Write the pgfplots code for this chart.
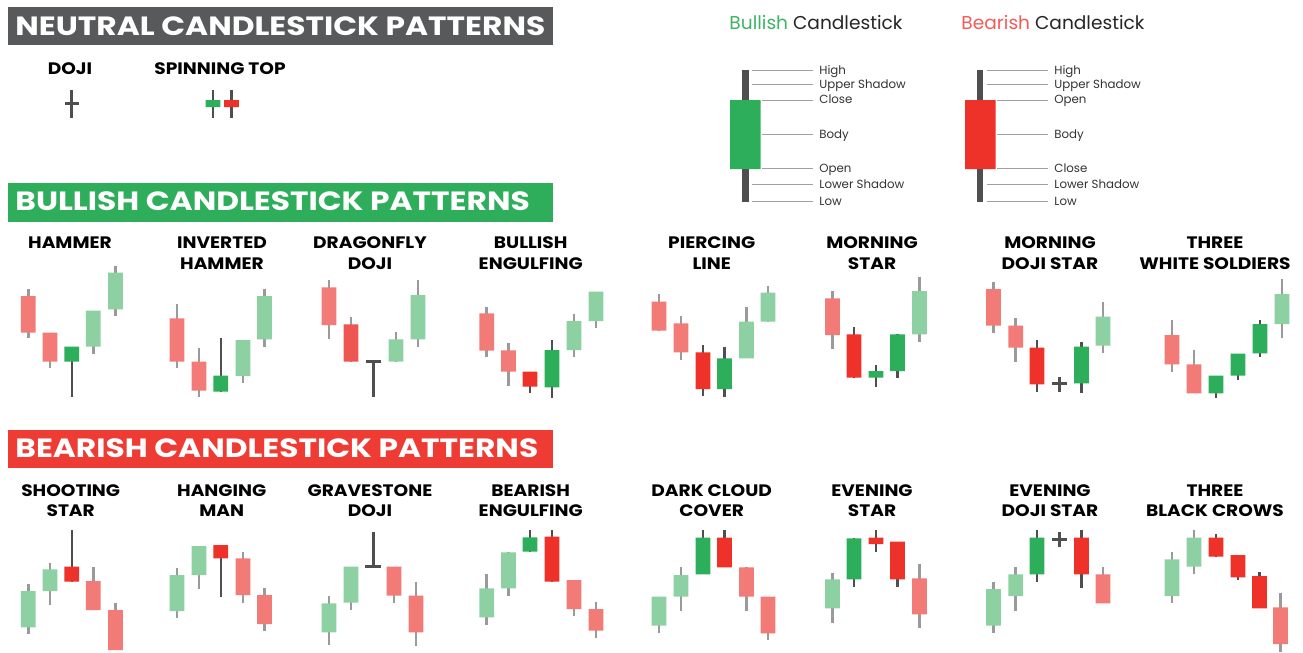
\documentclass[border=0pt]{standalone}
\usepackage{pgfplots}
\pgfplotsset{compat=1.18}
\usepackage{fontspec}
\setmainfont{Poppins}
\definecolor{lr}{HTML}{F27B78}
\definecolor{sr}{HTML}{EE3129}
\definecolor{mr}{HTML}{EE5652}
\definecolor{lg}{HTML}{8DD1A3}
\definecolor{sg}{HTML}{2DAE5A}
\definecolor{wl}{HTML}{9A9A9A}
\definecolor{wd}{HTML}{4F4F4F}
\definecolor{hgray}{HTML}{58595B}
\definecolor{hgreen}{HTML}{2EAD5B}
\definecolor{hred}{HTML}{EE3B33}
\definecolor{tgreen}{HTML}{3DB565}
\definecolor{tred}{HTML}{F25C57}
\definecolor{leader}{HTML}{A0A0A0}
\tikzset{
  hdr/.style={font=\fontsize{13.2}{14}\selectfont\bfseries, text=white, anchor=base west, inner sep=0pt},
  lab/.style={font=\fontsize{8.3}{9}\selectfont\bfseries, text=black, anchor=base, inner sep=0pt},
  leg/.style={font=\fontsize{5.9}{7}\selectfont, text=black!80, anchor=base west, inner sep=0pt},
}
\newcommand{\HdrScale}[1]{\scalebox{1.185}[1]{#1}}
\newcommand{\LabScale}[1]{\scalebox{1.12}[1]{#1}}
% candle: cx, body top, body bottom, wick top, wick bottom, body colour, wick colour
\newcommand{\cdl}[7]{%
 \pgfmathsetmacro\xl{#1-7.4}\pgfmathsetmacro\xr{#1+7.4}%
 \addplot[draw=#7, line width=1.25pt, mark=none, forget plot] coordinates {(#1,#4) (#1,#5)};
 \addplot[fill=#6, draw=none, mark=none, forget plot] coordinates {(\xl,#2) (\xr,#2) (\xr,#3) (\xl,#3) (\xl,#2)};
}
\newcommand{\LR}[5]{\cdl{#1}{#2}{#3}{#4}{#5}{lr}{wl}}
\newcommand{\LG}[5]{\cdl{#1}{#2}{#3}{#4}{#5}{lg}{wl}}
\newcommand{\SR}[5]{\cdl{#1}{#2}{#3}{#4}{#5}{sr}{wd}}
\newcommand{\SG}[5]{\cdl{#1}{#2}{#3}{#4}{#5}{sg}{wd}}
\newcommand{\MR}[5]{\cdl{#1}{#2}{#3}{#4}{#5}{mr}{wl}}
% dark line segment
\newcommand{\seg}[4]{\addplot[draw=wd, line width=1.5pt, mark=none, forget plot] coordinates {(#1,#2) (#3,#4)};}
\newcommand{\lead}[3]{\addplot[draw=leader, line width=0.5pt, mark=none, forget plot] coordinates {(#1,#3) (#2,#3)};}
\begin{document}
\begin{tikzpicture}
\begin{axis}[
  width=651.5pt, height=326.5pt, scale only axis,
  xmin=0, xmax=1303, ymin=0, ymax=653, y dir=reverse,
  hide axis, clip=false,
]
\path[fill=white] (axis cs:0,0) rectangle (axis cs:1303,653);
% header boxes
\fill[hgray] (axis cs:8,7) rectangle (axis cs:553,45);
\fill[hgreen] (axis cs:8,183) rectangle (axis cs:553,222);
\fill[hred] (axis cs:8,430) rectangle (axis cs:553,468);
\node[hdr] at (axis cs:15,35) {\HdrScale{NEUTRAL CANDLESTICK PATTERNS}};
\node[hdr] at (axis cs:15,210.5) {\HdrScale{BULLISH CANDLESTICK PATTERNS}};
\node[hdr] at (axis cs:15,457) {\HdrScale{BEARISH CANDLESTICK PATTERNS}};

% neutral
\node[lab] at (axis cs:70,74) {\LabScale{DOJI}};
\node[lab] at (axis cs:220,74) {\LabScale{SPINNING TOP}};
\seg{71.5}{90}{71.5}{118}
\seg{65}{103}{79}{103}
\SG{213}{100}{107}{90}{118}
\SR{231.5}{100}{107}{90}{118}

% legend
\node[font=\fontsize{9.3}{11}\selectfont, anchor=base, inner sep=0pt] at (axis cs:816,29) {\textcolor{tgreen}{Bullish} \textcolor{black!85}{Candlestick}};
\node[font=\fontsize{9.3}{11}\selectfont, anchor=base, inner sep=0pt] at (axis cs:1053,29) {\textcolor{tred}{Bearish} \textcolor{black!85}{Candlestick}};
\addplot[draw=wd, line width=3.4pt, mark=none, forget plot] coordinates {(745.7,70) (745.7,202)};
\addplot[fill=sg, draw=none, mark=none, forget plot] coordinates {(730,100) (760.7,100) (760.7,169) (730,169) (730,100)};
\addplot[draw=wd, line width=3.4pt, mark=none, forget plot] coordinates {(980,70) (980,202)};
\addplot[fill=sr, draw=none, mark=none, forget plot] coordinates {(965,100) (995.5,100) (995.5,169) (965,169) (965,100)};
\lead{751.5}{813}{70}
\lead{751.5}{813}{84}
\lead{762}{813}{100}
\lead{762}{813}{134}
\lead{762}{813}{168}
\lead{751.5}{813}{184}
\lead{751.5}{813}{201}
\lead{986.5}{1048}{70}
\lead{986.5}{1048}{84}
\lead{997}{1048}{100}
\lead{997}{1048}{134}
\lead{997}{1048}{168}
\lead{986.5}{1048}{184}
\lead{986.5}{1048}{201}
\node[leg] at (axis cs:819,74) {High};
\node[leg] at (axis cs:819,88) {Upper Shadow};
\node[leg] at (axis cs:819,104) {Close};
\node[leg] at (axis cs:819,138) {Body};
\node[leg] at (axis cs:819,172) {Open};
\node[leg] at (axis cs:819,188) {Lower Shadow};
\node[leg] at (axis cs:819,205) {Low};
\node[leg] at (axis cs:1054,74) {High};
\node[leg] at (axis cs:1054,88) {Upper Shadow};
\node[leg] at (axis cs:1054,104) {Open};
\node[leg] at (axis cs:1054,138) {Body};
\node[leg] at (axis cs:1054,172) {Close};
\node[leg] at (axis cs:1054,188) {Lower Shadow};
\node[leg] at (axis cs:1054,205) {Low};

% bullish labels
\node[lab] at (axis cs:70,248) {\LabScale{HAMMER}};
\node[lab] at (axis cs:222,248) {\LabScale{INVERTED}};
\node[lab] at (axis cs:222,269) {\LabScale{HAMMER}};
\node[lab] at (axis cs:370,248) {\LabScale{DRAGONFLY}};
\node[lab] at (axis cs:370,269) {\LabScale{DOJI}};
\node[lab] at (axis cs:530.7,248) {\LabScale{BULLISH}};
\node[lab] at (axis cs:530.7,269) {\LabScale{ENGULFING}};
\node[lab] at (axis cs:711.7,248) {\LabScale{PIERCING}};
\node[lab] at (axis cs:711.7,269) {\LabScale{LINE}};
\node[lab] at (axis cs:872,248) {\LabScale{MORNING}};
\node[lab] at (axis cs:872,269) {\LabScale{STAR}};
\node[lab] at (axis cs:1050,248) {\LabScale{MORNING}};
\node[lab] at (axis cs:1050,269) {\LabScale{DOJI STAR}};
\node[lab] at (axis cs:1215,248) {\LabScale{THREE}};
\node[lab] at (axis cs:1215,269) {\LabScale{WHITE SOLDIERS}};

% hammer
\LR{28.3}{296}{332.7}{289}{338}
\LR{50}{332.7}{361.7}{332.7}{368}
\SG{71.8}{346.7}{361.7}{346.7}{396.7}
\LG{93.3}{310.7}{346.7}{310.7}{354}
\LG{115.5}{272.7}{309.3}{266}{316}
% inverted hammer
\LR{177}{318.3}{361.7}{304}{368.3}
\LR{199}{361.7}{390.7}{347.7}{396.7}
\SG{220.8}{375.7}{391.7}{338.3}{391.7}
\LG{243}{340}{376}{340}{383.3}
\LG{264.5}{296}{339.3}{289.3}{346.7}
% dragonfly doji
\LR{329}{287.3}{325}{280}{339.3}
\MR{351}{324.3}{361.7}{317.3}{361.7}
\seg{366}{361.7}{380.7}{361.7}
\seg{373.3}{361.7}{373.3}{396.7}
\LG{396}{339.3}{361.7}{331.7}{361.7}
\LG{418}{295}{339.3}{280}{346.7}
% bullish engulfing
\LR{486.7}{313.3}{350.7}{306.7}{356.7}
\LR{508.5}{350.3}{371.7}{343.3}{385.7}
\SR{530}{371.7}{386.7}{371.7}{393.3}
\SG{552}{350}{387.3}{340}{398.3}
\LG{574}{321}{350}{314}{356.7}
\LG{596}{291.7}{321}{291.7}{327.7}
% piercing line
\LR{659}{301.7}{330.7}{294.3}{330.7}
\LR{681}{323.3}{352.3}{316}{360}
\SR{703}{352.3}{389}{345}{395.7}
\SG{724.5}{358.3}{389}{346.7}{396.7}
\LG{746.5}{321.7}{358.3}{307.3}{358.3}
\LG{768}{292.7}{321.7}{285.7}{321.7}
% morning star
\LR{832.5}{298.3}{335}{291}{349}
\SR{854}{334.3}{377.7}{327.3}{377.7}
\SG{876}{371}{377.7}{365}{386.7}
\SG{897.5}{334.3}{371}{334.3}{378.3}
\LG{919.5}{291}{334.3}{276.7}{341.7}
% morning doji star
\LR{993.5}{289}{325.7}{281.7}{332.7}
\LR{1015.7}{325.7}{347.7}{318.3}{361.7}
\SR{1037}{347.7}{384.3}{340}{391.7}
\seg{1051.7}{383.3}{1066.7}{383.3}
\seg{1059}{376.7}{1059}{391.7}
\SG{1081.5}{346.7}{383.3}{342.3}{393.3}
\LG{1103}{316.7}{345.7}{302.3}{353.3}
% three white soldiers
\LR{1172}{335}{364.3}{320}{371.7}
\LR{1194}{364.3}{393.3}{350}{393.3}
\SG{1216}{375.7}{393.3}{375.7}{397.7}
\SG{1238}{353.7}{375.7}{353.7}{380}
\SG{1260}{324}{353.3}{320}{356.7}
\LG{1282}{294}{324}{279}{337.7}

% bearish labels
\node[lab] at (axis cs:70.7,496) {\LabScale{SHOOTING}};
\node[lab] at (axis cs:70.7,516.5) {\LabScale{STAR}};
\node[lab] at (axis cs:221.7,496) {\LabScale{HANGING}};
\node[lab] at (axis cs:221.7,516.5) {\LabScale{MAN}};
\node[lab] at (axis cs:370,496) {\LabScale{GRAVESTONE}};
\node[lab] at (axis cs:370,516.5) {\LabScale{DOJI}};
\node[lab] at (axis cs:530.7,496) {\LabScale{BEARISH}};
\node[lab] at (axis cs:530.7,516.5) {\LabScale{ENGULFING}};
\node[lab] at (axis cs:711.7,496) {\LabScale{DARK CLOUD}};
\node[lab] at (axis cs:711.7,516.5) {\LabScale{COVER}};
\node[lab] at (axis cs:872,496) {\LabScale{EVENING}};
\node[lab] at (axis cs:872,516.5) {\LabScale{STAR}};
\node[lab] at (axis cs:1050,496) {\LabScale{EVENING}};
\node[lab] at (axis cs:1050,516.5) {\LabScale{DOJI STAR}};
\node[lab] at (axis cs:1215,496) {\LabScale{THREE}};
\node[lab] at (axis cs:1215,516.5) {\LabScale{BLACK CROWS}};

% shooting star
\LG{28.3}{591}{627.3}{584}{634}
\LG{50}{569.3}{591}{562.7}{605}
\SR{71.8}{566.7}{581.7}{530}{581.7}
\LR{93.3}{581}{610}{566.7}{610}
\LR{115.5}{610}{650}{602.7}{650}
% hanging man
\LG{177}{575}{611}{568.3}{618.3}
\LG{199}{546}{575}{546}{589.3}
\SR{220.8}{545}{558.3}{545}{596.7}
\LR{243}{558.3}{595}{551.7}{602.7}
\LR{264.5}{595}{624}{588.3}{630.7}
% gravestone doji
\LG{329}{603.3}{632.3}{596}{645}
\LG{351}{566.7}{602.7}{566.7}{610}
\seg{365}{566.7}{380.5}{566.7}
\seg{373.3}{531.7}{373.3}{566.7}
\LR{394}{566.7}{595.7}{566.7}{602.7}
\LR{416}{595.7}{632.3}{581.7}{646}
% bearish engulfing
\LG{486.7}{588.3}{617.3}{574}{625}
\LG{508.5}{552.3}{588.3}{552.3}{595.7}
\SG{530}{537.3}{551.7}{530}{551.7}
\SR{552}{536.7}{581.7}{530}{581.7}
\LR{574}{580}{609}{580}{616}
\LR{596}{609}{630.7}{601.7}{638.3}
% dark cloud cover
\LG{659}{596.7}{625.7}{596.7}{633.3}
\LG{681}{575}{596.7}{567.3}{610.7}
\SG{703}{537.7}{574.3}{530}{574.3}
\SR{724.5}{537.7}{567.3}{530}{567.3}
\LR{746.5}{567.3}{596.7}{567.3}{610.7}
\LR{768}{596.7}{633.3}{596.7}{640}
% evening star
\LG{832.5}{579.3}{608.3}{572.7}{622.7}
\SG{854}{538.3}{579.3}{538.3}{586.7}
\SR{876}{537.7}{544}{530}{551.7}
\SR{897.5}{541.7}{579.3}{541.7}{586.7}
\LR{919.5}{578.3}{614.3}{564}{628.3}
% evening doji star
\LG{993.5}{589}{625.7}{581.7}{632.7}
\LG{1015.7}{574.3}{596}{567.3}{610.7}
\SG{1037}{537.7}{574.3}{530}{581.7}
\seg{1051.7}{539.3}{1066.7}{539.3}
\seg{1059}{532.3}{1059}{546.7}
\SR{1081.5}{537.7}{574.3}{530}{588.3}
\LR{1103}{574.3}{603.3}{567.3}{603.3}
% three black crows
\LG{1172}{559.3}{596}{551.7}{603.3}
\LG{1194}{537.7}{566.7}{530}{574}
\SR{1216}{537.7}{556.7}{534}{556.7}
\SR{1238}{555}{577.3}{555}{580}
\SR{1259.5}{576}{608.3}{571.7}{608.3}
\LR{1280.5}{607.3}{644}{593.3}{651.7}
\end{axis}
\end{tikzpicture}
\end{document}
